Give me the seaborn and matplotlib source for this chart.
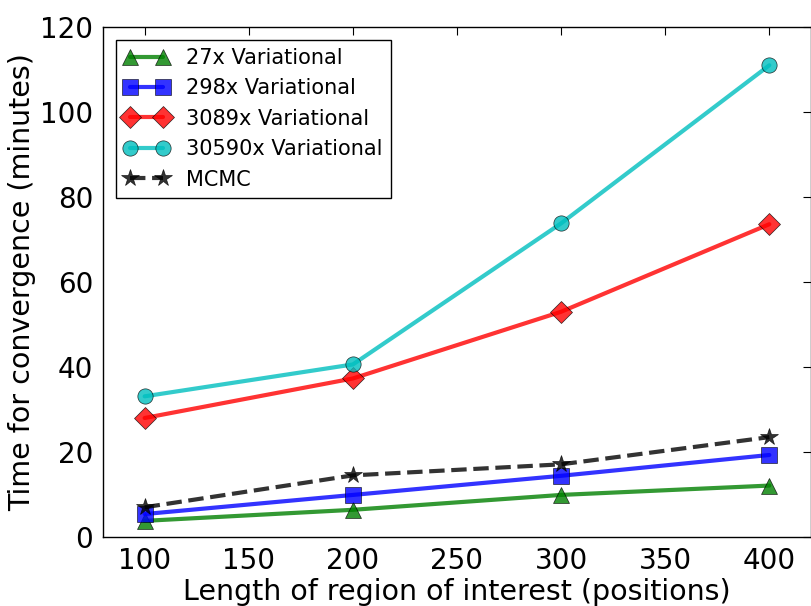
import matplotlib
matplotlib.use("Agg")
import matplotlib.pyplot as plt
import seaborn as sns
import pandas as pd

lengths = [100, 200, 300, 400]
v27 = [3.8, 6.4, 9.9, 12.1]
v298 = [5.4, 9.9, 14.4, 19.3]
v3089 = [28.0, 37.3, 53.0, 73.6]
v30590 = [33.1, 40.6, 73.8, 111.0]
mcmc = [7.0, 14.5, 17.1, 23.5]

labels = ["27x Variational", "298x Variational", "3089x Variational",
          "30590x Variational", "MCMC"]
series = [v27, v298, v3089, v30590, mcmc]
colors = ["g", "b", "r", "c", "k"]
markers = ["^", "s", "D", "o", "*"]
styles = ["-", "-", "-", "-", "--"]

sns.set_style("white")
plt.rcParams['font.family'] = ['DejaVu Sans']
plt.rcParams['text.color'] = 'k'
plt.rcParams['axes.labelcolor'] = 'k'

fig = plt.figure(figsize=(8.12, 6.06), dpi=100)
ax = fig.add_axes([103/812, 1-537/606, (811-103)/812, (537-27)/606])

for vals, lab, c, m, ls in zip(series, labels, colors, markers, styles):
    df = pd.DataFrame({"x": lengths, "y": vals})
    sns.lineplot(data=df, x="x", y="y", ax=ax, color=c, marker=m,
                 linestyle=ls, linewidth=3, alpha=0.8, markersize=11 if m != "*" else 13,
                 markeredgecolor="k", markeredgewidth=0.5, markerfacecolor=c,
                 label=lab)

ax.set_xlim(80, 420)
ax.set_ylim(0, 120)
ax.set_xticks([100, 150, 200, 250, 300, 350, 400])
ax.set_yticks([0, 20, 40, 60, 80, 100, 120])
ax.tick_params(direction="in", top=True, right=True, length=6, width=0.8,
               labelsize=20, pad=7, colors="k")
for sp in ax.spines.values():
    sp.set_color("k")
    sp.set_linewidth(1)
ax.set_xlabel("Length of region of interest (positions)", fontsize=20.5, labelpad=2)
ax.set_ylabel("Time for convergence (minutes)", fontsize=20.5, labelpad=3)

leg = ax.legend(loc="upper left", fontsize=15, numpoints=2, fancybox=False,
                frameon=True, edgecolor="k", framealpha=1,
                borderaxespad=0.6, handlelength=2.2)
leg.get_frame().set_linewidth(1)
for t in leg.get_texts():
    t.set_color("k")

fig.savefig("out.png", dpi=100)
